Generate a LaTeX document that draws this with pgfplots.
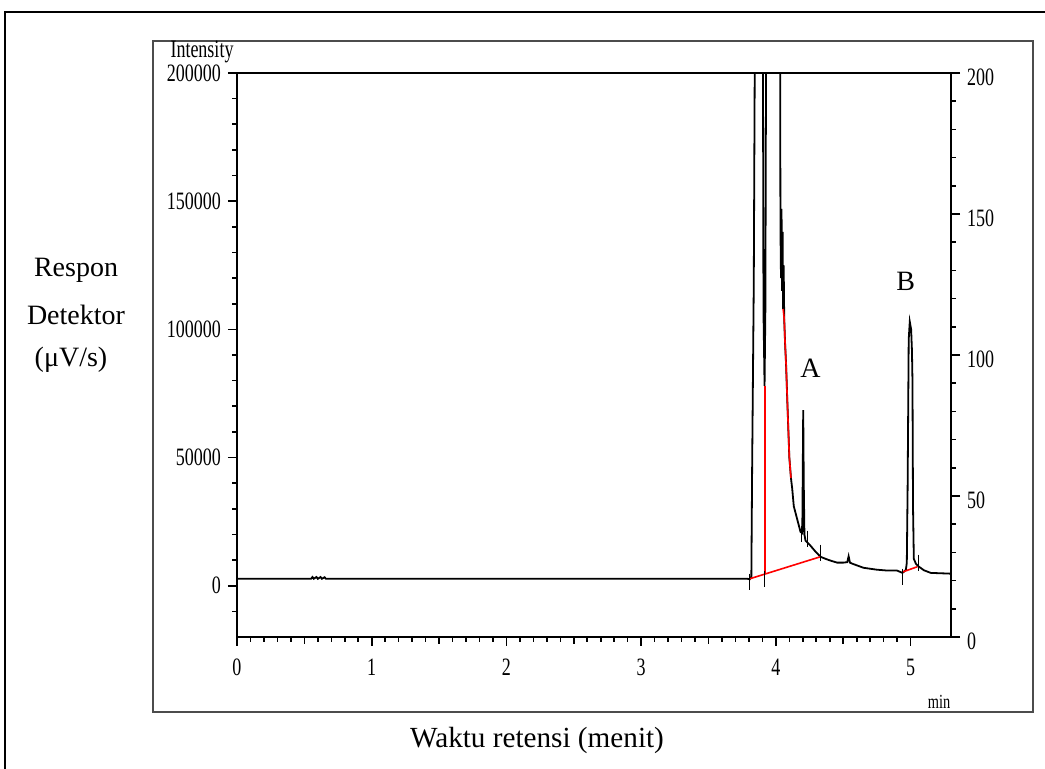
\documentclass[border=0pt]{standalone}
\usepackage{pgfplots}
\pgfplotsset{compat=1.18}
\usepackage{fontspec}
\setmainfont{Liberation Serif}
\newfontfamily\condfont[FakeStretch=0.72]{Liberation Serif}

\pgfplotstableread{
x y
0 2700
0.55 2700
0.56 3400
0.57 2700
0.59 3400
0.60 2700
0.62 3400
0.63 2700
0.65 3300
0.66 2700
3.790 2700
3.806 2500
3.818 3600
3.824 47000
3.836 118000
3.848 260000
3.902 260000
3.908 107000
3.916 78000
3.922 107000
3.930 260000
4.030 260000
4.034 140000
4.038 120000
4.042 147000
4.046 115000
4.050 138000
4.054 108000
4.058 125000
4.062 104000
4.068 95000
4.076 86000
4.085 72000
4.100 50000
4.112 42000
4.121 38000
4.133 31000
4.158 26000
4.183 21000
4.196 20500
4.199 40000
4.203 68500
4.207 40000
4.212 20000
4.220 17600
4.257 15600
4.294 13300
4.331 11300
4.368 10500
4.405 9800
4.455 9000
4.500 9000
4.530 9200
4.540 11500
4.550 9000
4.567 8600
4.650 7000
4.750 6250
4.830 5900
4.900 5900
4.940 5000
4.965 6200
4.972 9000
4.978 38000
4.986 96000
4.994 103000
5.004 100000
5.010 92000
5.014 80000
5.018 31000
5.024 10500
5.040 8500
5.060 7500
5.100 6000
5.150 5000
5.300 4700
}\trace

\pgfplotstableread{
x y
4.054 108000
4.062 104000
4.068 95000
4.076 86000
4.085 72000
4.100 50000
4.112 42000
}\redtrace

\pgfplotstableread{
x y
3.806 1600
3.918 2700
4.188 20300
4.235 18400
4.331 12900
4.938 3500
5.060 9000
}\markers

\begin{document}
\begin{tikzpicture}
\useasboundingbox (0pt,0pt) rectangle (522.5pt,384.5pt);
% outer frame
\draw[line width=1pt] (2.5pt,-10pt) -- (2.5pt,378.5pt) -- (540pt,378.5pt);
% inner frame
\draw[line width=0.9pt, black!70] (76.5pt,28.5pt) rectangle (516.5pt,364pt);

\begin{axis}[
  at={(118.5pt,66pt)}, anchor=south west,
  scale only axis, width=357pt, height=282pt,
  xmin=0, xmax=5.3, ymin=-20000, ymax=200000,
  axis line style={line width=0.9pt},
  tick style={line width=0.8pt, black},
  tick align=outside,
  major tick length=4.5pt, minor tick length=2.3pt,
  xtick={0,1,2,3,4,5}, minor x tick num=9,
  extra x ticks={0.5,1.5,2.5,3.5,4.5}, extra x tick labels={},
  extra x tick style={major tick length=3.4pt},
  ytick={0,50000,100000,150000,200000},
  minor ytick={-10000,10000,20000,30000,40000,60000,70000,80000,90000,110000,120000,130000,140000,160000,170000,180000,190000},
  xtick pos=bottom, ytick pos=left,
  scaled y ticks=false,
  /pgf/number format/fixed,
  /pgf/number format/assume math mode=true,
  /pgf/number format/1000 sep={},
  ticklabel style={font=\condfont\fontsize{12.5}{13}\selectfont},
  xticklabel style={yshift=-3pt},
]
\addplot[black, line width=0.9pt] table[x=x,y=y] {\trace};
\addplot[red, line width=0.8pt] table[x=x,y=y] {\redtrace};
\addplot[red, line width=0.8pt] coordinates {(3.806,2700) (4.331,11300)};
\addplot[red, line width=0.8pt] coordinates {(3.918,4500) (3.918,78000)};
\addplot[red, line width=0.8pt] coordinates {(4.938,5300) (5.050,7400)};
\addplot[only marks, mark=|, mark size=4pt, mark options={black, line width=0.6pt}] table[x=x,y=y] {\markers};
\node[font=\fontsize{14}{16}\selectfont] at (axis cs:4.257,84800) {A};
\node[font=\fontsize{14}{16}\selectfont] at (axis cs:4.963,118750) {B};
\end{axis}

\begin{axis}[
  at={(118.5pt,66pt)}, anchor=south west,
  scale only axis, width=357pt, height=282pt,
  xmin=0, xmax=5.3, ymin=0, ymax=200,
  axis x line=none, axis y line*=right,
  axis line style={line width=0.9pt, -},
  tick style={line width=0.8pt, black},
  tick align=outside,
  major tick length=4.5pt, minor tick length=2.3pt,
  ytick={0,50,100,150,200},
  minor ytick={10,20,30,40,60,70,80,90,110,120,130,140,160,170,180,190},
  /pgf/number format/fixed,
  /pgf/number format/assume math mode=true,
  ticklabel style={font=\condfont\fontsize{12.5}{13}\selectfont, yshift=-2pt},
]
\addplot[draw=none] coordinates {(0,0) (5.3,200)};
\end{axis}

\node[font=\condfont\fontsize{12.5}{13}\selectfont] at (101pt,358.5pt) {Intensity};
\node[font=\condfont\fontsize{10}{11}\selectfont] at (469.5pt,33.5pt) {min};

\node[font=\fontsize{14}{16}\selectfont] at (38pt,249.5pt) {Respon};
\node[font=\fontsize{14}{16}\selectfont] at (38pt,227pt) {Detektor};
\node[font=\fontsize{14}{16}\selectfont] at (35.5pt,204.5pt) {(μV/s)};
\node[font=\fontsize{14.6}{17}\selectfont] at (268.5pt,14.5pt) {Waktu retensi (menit)};
\end{tikzpicture}
\end{document}
